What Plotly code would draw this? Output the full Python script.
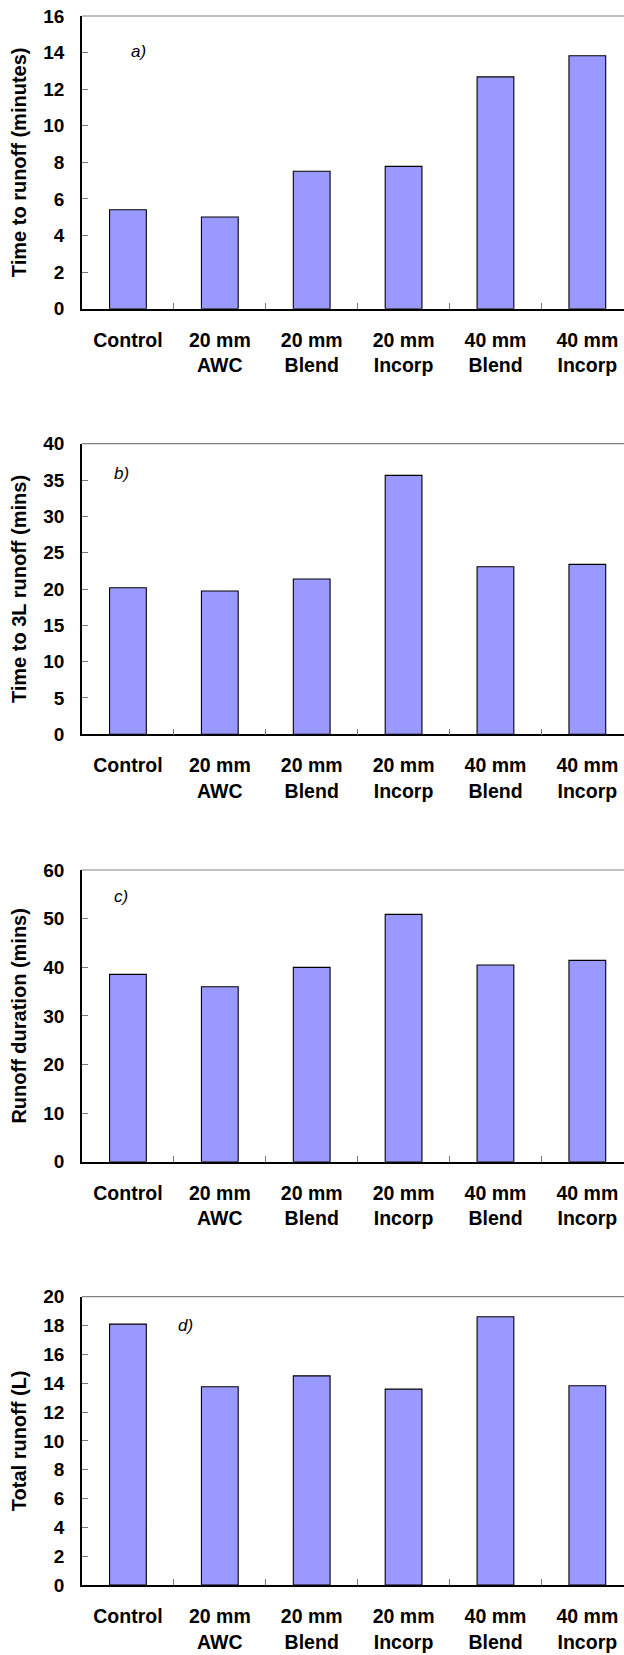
import plotly.graph_objects as go

categories = ["Control", "20 mm<br>AWC", "20 mm<br>Blend", "20 mm<br>Incorp", "40 mm<br>Blend", "40 mm<br>Incorp"]
time_to_runoff = [5.41, 5.01, 7.51, 7.78, 12.67, 13.83]
time_to_3l = [20.18, 19.72, 21.38, 35.64, 23.07, 23.39]
runoff_duration = [38.54, 36.0, 39.98, 50.88, 40.46, 41.42]
total_runoff = [18.1, 13.75, 14.51, 13.59, 18.61, 13.82]

panels = [
    (time_to_runoff, "Time to runoff (minutes)", 16, 2, "a)", (16, 308.7), (138, 51)),
    (time_to_3l, "Time to 3L runoff (mins)", 40, 5, "b)", (443.7, 734.3), (121, 473)),
    (runoff_duration, "Runoff duration (mins)", 60, 10, "c)", (870, 1161.7), (121, 897)),
    (total_runoff, "Total runoff (L)", 20, 2, "d)", (1296.7, 1585), (185, 1325)),
]

W, H = 624, 1655
L = 82
FONT = "Arial, Liberation Sans, sans-serif"
fig = go.Figure()
layout = dict(
    width=W, height=H,
    margin=dict(l=L, r=0, t=0, b=0),
    paper_bgcolor="white", plot_bgcolor="white",
    showlegend=False, bargap=0.6,
    font=dict(family=FONT, color="black"),
)
shapes = []
annotations = []
for i, (vals, title, ymax, dtick, lab, (ptop, pbot), (ax, ay)) in enumerate(panels):
    n = "" if i == 0 else str(i + 1)
    xa = "x" + n
    ya = "y" + n
    fig.add_trace(go.Bar(
        x=categories, y=vals, xaxis=xa, yaxis=ya,
        marker=dict(color="#9999FF", line=dict(color="black", width=1.1)),
    ))
    layout["xaxis" + n] = dict(
        domain=[0, 1], anchor=ya, type="category",
        range=[-0.5, 5.399], tickson="boundaries", ticks="inside", ticklen=6,
        tickcolor="#777", tickwidth=1,
        showline=True, linecolor="black", linewidth=1.5,
        showgrid=False, zeroline=False, automargin=False,
        tickfont=dict(size=19.5, family=FONT, weight="bold", color="black"),
        ticklabelstandoff=13,
    )
    layout["yaxis" + n] = dict(
        domain=[1 - pbot / H, 1 - ptop / H], anchor=xa,
        range=[0, ymax], dtick=dtick, ticks="inside", ticklen=6,
        tickcolor="#777", tickwidth=1,
        showline=True, linecolor="black", linewidth=1.5,
        showgrid=False, zeroline=False, automargin=False,
        tickfont=dict(size=19, family=FONT, weight="bold", color="black"),
        ticklabelstandoff=12,
        title=dict(text=title, standoff=11,
                   font=dict(size=20, family=FONT, weight="bold", color="black")),
    )
    shapes.append(dict(type="line", xref=xa + " domain", yref=ya + " domain",
                       x0=0, x1=1, y0=1, y1=1, line=dict(color="#808080", width=1.2)))
    annotations.append(dict(text=lab, xref="paper", yref="paper",
                            x=(ax - L) / (W - L), y=1 - ay / H, showarrow=False,
                            font=dict(size=17, family=FONT, style="italic", color="black"),
                            xanchor="center", yanchor="middle"))

layout["shapes"] = shapes
layout["annotations"] = annotations
fig.update_layout(**layout)
fig.write_html("out.html")
